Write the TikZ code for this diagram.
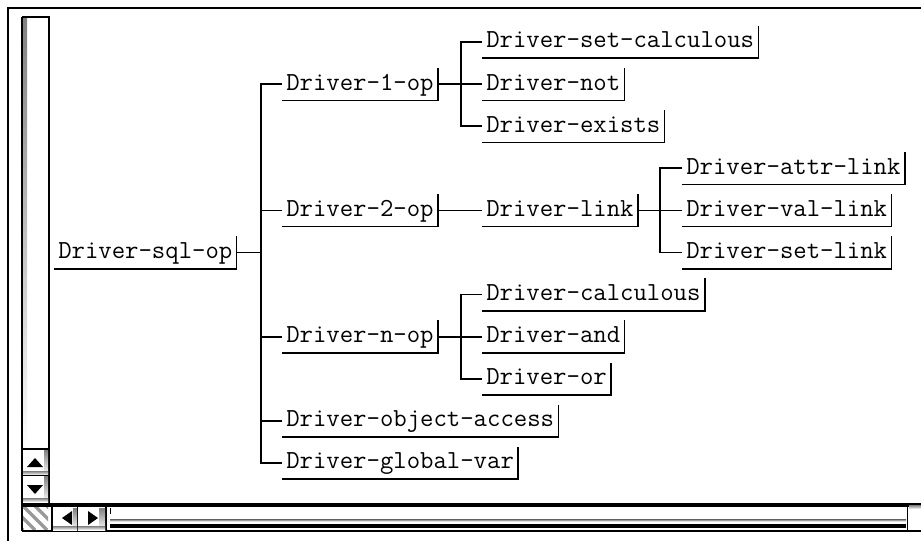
\documentclass[tikz,border=0pt]{standalone}
\usepackage{tikz}
\usetikzlibrary{positioning,calc}

\definecolor{shade}{gray}{0.5}

\begin{document}
\begin{tikzpicture}[x=0.75pt, y=-0.75pt,
    item/.style={anchor=west, inner xsep=3pt, inner ysep=0pt,
        text height=16.5pt, text depth=7.5pt,
        font=\fontsize{19.5}{22}\selectfont\ttfamily},
    wire/.style={line width=1.25pt}]
    \useasboundingbox (0,0) rectangle (921,541);

    % window frame and scroll bars
    \draw [line width=1.5pt] (8,541) -- (8,8) -- (921,8);
    \fill [shade] (22,17) rectangle (27,449);
    \draw [wire] (22,17) -- (49,17) -- (49,503);
    \draw [wire] (22,17) -- (22,531);
    \fill [shade] (44,450) rectangle (48,475);
    \fill [shade] (23,471) rectangle (48,475);
    \fill [shade] (44,476) rectangle (48,502);
    \fill [shade] (23,498) rectangle (48,502);
    \draw [wire] (22,449) -- (49,449);
    \draw [wire] (22,475.5) -- (49,475.5);
    \fill (27,467) -- (43,467) -- (35,458) -- cycle;
    \fill (27,485) -- (43,485) -- (35,494) -- cycle;
    \begin{scope}
        \clip (23,506) rectangle (48,530);
        \foreach \k in {-36,-24,...,24}
            \draw [shade!80, line width=2.5pt] (23+\k,506) -- (47+\k,530);
    \end{scope}
    \fill (22,502.5) rectangle (921,506.5);
    \draw [wire] (22,531) -- (921,531);
    \draw [wire] (52,507) -- (52,531);
    \draw [wire] (77.5,507) -- (77.5,531);
    \draw [wire] (106,507) -- (106,531);
    \draw [wire] (907.5,507) -- (907.5,531);
    \fill [shade] (73,508) rectangle (77,530);
    \fill [shade] (53,526) rectangle (77,530);
    \fill [shade] (99,508) rectangle (105,530);
    \fill [shade] (78,526) rectangle (105,530);
    \fill (62,518) -- (72,511) -- (72,525) -- cycle;
    \fill (98,518) -- (88,511) -- (88,525) -- cycle;
    \draw [wire] (110.5,508) -- (110.5,514);
    \fill [shade] (110,519.5) rectangle (906,521.5);
    \fill (110,523.5) rectangle (906,527.5);
    \fill [shade] (909,505) rectangle (921,509);

    % tree
    \node [item] (sql) at (54,252.5) {Driver-sql-op};
    \node [item] (op1) at (282,84.1) {Driver-1-op};
    \node [item] (op2) at (282,210.4) {Driver-2-op};
    \node [item] (opn) at (282,336.7) {Driver-n-op};
    \node [item] (objacc) at (282,420.9) {Driver-object-access};
    \node [item] (globvar) at (282,463) {Driver-global-var};
    \node [item] (setcalc) at (482,42) {Driver-set-calculous};
    \node [item] (dnot) at (482,84.1) {Driver-not};
    \node [item] (exists) at (482,126.2) {Driver-exists};
    \node [item] (link) at (482,210.4) {Driver-link};
    \node [item] (attr) at (682,168.3) {Driver-attr-link};
    \node [item] (val) at (682,210.4) {Driver-val-link};
    \node [item] (setlink) at (682,252.5) {Driver-set-link};
    \node [item] (calc) at (482,294.6) {Driver-calculous};
    \node [item] (dand) at (482,336.7) {Driver-and};
    \node [item] (dor) at (482,378.8) {Driver-or};

    \foreach \n in {sql,op1,op2,opn,objacc,globvar,setcalc,dnot,exists,link,attr,val,setlink,calc,dand,dor}
        \draw [wire] (\n.south west) -- (\n.south east) -- (\n.north east);

    \foreach \c in {op1,op2,opn,objacc,globvar}
        \draw [wire] (\c.west) -- ++(-21,0) |- (sql.east);
    \foreach \c in {setcalc,dnot,exists}
        \draw [wire] (\c.west) -- ++(-21,0) |- (op1.east);
    \draw [wire] (op2.east) -- (link.west);
    \foreach \c in {attr,val,setlink}
        \draw [wire] (\c.west) -- ++(-22,0) |- (link.east);
    \foreach \c in {calc,dand,dor}
        \draw [wire] (\c.west) -- ++(-21,0) |- (opn.east);
\end{tikzpicture}
\end{document}
